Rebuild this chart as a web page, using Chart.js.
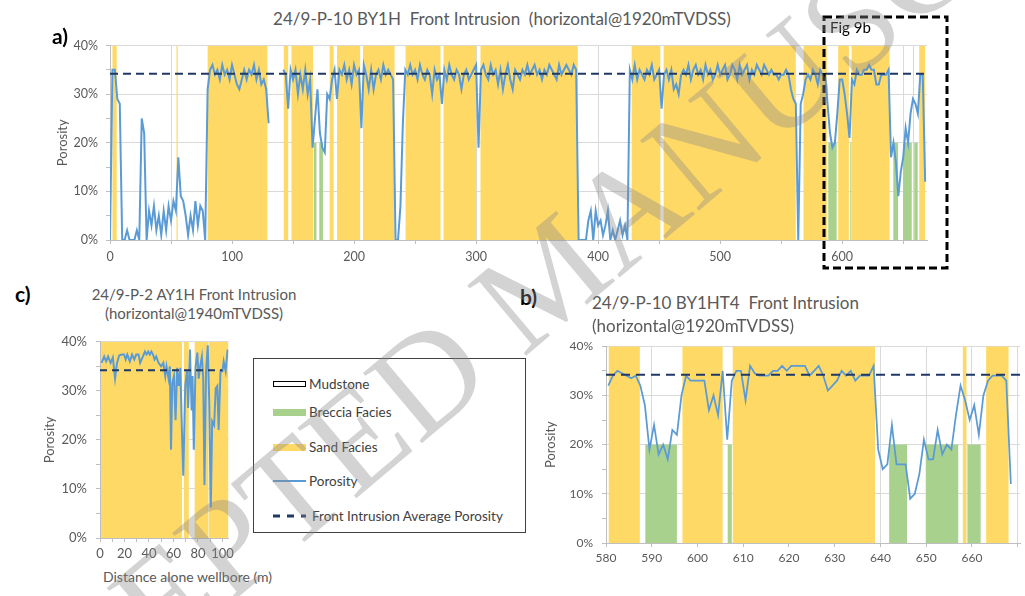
<!DOCTYPE html>
<html>
<head>
<meta charset="utf-8">
<script src="https://cdn.jsdelivr.net/npm/chart.js@4.4.1/dist/chart.umd.min.js"></script>
<style>
  body { margin: 0; width: 1025px; height: 596px; overflow: hidden; position: relative; background: #fff; font-family: Lato, "Open Sans", sans-serif; }
  canvas { position: absolute; }
  .lbl { position: absolute; font-weight: bold; font-size: 21px; line-height: 1; color: #000; }
  .ttl { position: absolute; color: #595959; white-space: nowrap; line-height: 1; }
  #legend { position: absolute; left: 253px; top: 358px; width: 271px; height: 173px; border: 1px solid #404040; background: #fff; }
  .li { position: absolute; left: 19px; height: 18px; display: flex; align-items: center; font-size: 13.5px; color: #404040; white-space: nowrap; }
  .sw { display: inline-block; width: 33px; margin-right: 3px; box-sizing: border-box; }
  #wm { position: absolute; left: 548px; top: 276px; transform: translate(-50%, -50%) rotate(-40deg); font: 140px "Liberation Serif", serif; line-height: 1; color: rgba(140,140,140,0.38); white-space: nowrap; pointer-events: none; }
</style>
</head>
<body>
<canvas id="chartA" width="890" height="240" style="left:40px;top:30px"></canvas>
<canvas id="chartB" width="485" height="240" style="left:540px;top:330px"></canvas>
<canvas id="chartC" width="218" height="240" style="left:20px;top:325px"></canvas>

<div class="lbl" style="left:52px;top:25px">a)</div>
<div class="lbl" style="left:520px;top:286px">b)</div>
<div class="lbl" style="left:15px;top:283px">c)</div>

<div class="ttl" style="left:502px;top:10px;font-size:17px;transform:translateX(-50%)">24/9-P-10 BY1H&nbsp; Front Intrusion&nbsp; (horizontal@1920mTVDSS)</div>
<div class="ttl" style="left:592px;top:294px;font-size:17px">24/9-P-10 BY1HT4&nbsp; Front Intrusion</div>
<div class="ttl" style="left:592px;top:317px;font-size:17px">(horizontal@1920mTVDSS)</div>
<div class="ttl" style="left:194px;top:287px;font-size:15px;transform:translateX(-50%)">24/9-P-2 AY1H Front Intrusion</div>
<div class="ttl" style="left:194px;top:306px;font-size:15px;transform:translateX(-50%)">(horizontal@1940mTVDSS)</div>
<div class="ttl" style="left:103px;top:570px;font-size:14px">Distance alone wellbore (m)</div>

<svg style="position:absolute;left:822px;top:15px" width="128" height="256">
  <rect x="2" y="2" width="123" height="251" fill="none" stroke="#000" stroke-width="3" stroke-dasharray="8 4"/>
</svg>
<div style="position:absolute;left:830px;top:20px;font-size:15px;color:#000;line-height:1">Fig 9b</div>

<div id="legend">
  <div class="li" style="top:16px"><span class="sw" style="height:6px;border:1px solid #000;background:#fff"></span>Mudstone</div>
  <div class="li" style="top:44px"><span class="sw" style="height:7px;background:#a9d18e"></span>Breccia Facies</div>
  <div class="li" style="top:79px"><span class="sw" style="height:7px;background:#ffd966"></span>Sand Facies</div>
  <div class="li" style="top:113px"><span class="sw" style="height:2px;background:#5b9bd5"></span>Porosity</div>
  <div class="li" style="top:148px"><svg width="36" height="6" style="margin-right:3px"><line x1="0" y1="3" x2="33" y2="3" stroke="#1f3864" stroke-width="3" stroke-dasharray="7 7"/></svg>Front Intrusion Average Porosity</div>
</div>

<div id="wm">ACCEPTED MANUSCRIPT</div>

<script>
// ---- data ----
const frontAvg = 34.2;            // front intrusion average porosity, %
const sandTop = 40;               // sand facies drawn full height
const brecciaTop = 20;            // breccia facies drawn to 20 %

// a) 24/9-P-10 BY1H, one sample every 2 m
const aStart = 0, aStep = 2;
const aPorosity = [
  0, 35, 35, 29, 28, 0, 0, 2, 0, 0,
  0, 2, 0, 25, 22, 0, 6, 3, 7, 2,
  5, 1, 6, 2, 7, 4, 8, 6, 17, 9,
  8, 5, 1, 5, 2, 8, 3, 7, 6, 0,
  31, 35, 36, 34, 35, 33, 36, 34, 35, 33,
  36, 34, 32, 31, 33, 35, 33, 35, 34, 36,
  33, 35, 32, 33, 31, 24, null, null, null, null,
  null, 35, 34, 27, 35, 33, 35, 30, 34, 31,
  35, 30, 33, 19, 25, 31, 22, 19, 18, 30,
  29, 33, 35, 29, 35, 34, 36, 33, 35, 32,
  36, 34, 35, 23, 36, 34, 31, 35, 31, 34,
  35, 33, 36, 34, 35, 34, 33, 0, 0, 7,
  24, 35, 34, 36, 34, 35, 33, 36, 34, 33,
  35, 34, 30, 35, 33, 34, 28, 35, 33, 36,
  34, 33, 35, 34, 31, 34, 35, 33, 34, 35,
  36, 19, 35, 36, 34, 33, 36, 34, 35, 32,
  35, 31, 34, 36, 33, 31, 35, 34, 33, 35,
  34, 36, 34, 35, 36, 34, 35, 33, 35, 34,
  36, 35, 34, 33, 36, 34, 35, 36, 35, 34,
  36, 35, 0, 0, 0, 0, 4, 6, 0, 6,
  3, 4, 1, 3, 6, 0, 2, 0, 2, 4,
  1, 3, 0, 35, 33, 36, 33, 35, 34, 33,
  35, 34, 36, 33, 34, 35, 27, 34, 35, 33,
  35, 31, 32, 30, 34, 35, 34, 36, 33, 35,
  36, 34, 35, 33, 36, 34, 35, 33, 34, 36,
  34, 35, 36, 33, 34, 36, 35, 33, 36, 34,
  35, 36, 33, 35, 34, 36, 35, 34, 36, 35,
  34, 35, 34, 34, 33, 34, 34, 35, 34, 31,
  29, 28, 0, 28, 30, 33, 34, 33, 35, 34,
  32, 35, 34, 34, 28, 22, 19, 20, 26, 33,
  33, 30, 26, 21, 33, 32, 35, 34, 34, 35,
  35, 36, 35, 35, 32, 32, 34, 34, 34, 35,
  17, 20, 16, 9, 14, 17, 23, 20, 26, 29,
  28, 26, 34, 34, 12
];
const aSand = [[2, 5.5], [54.5, 55.5], [80, 129], [142.4, 146], [148.7, 166.4], [180, 183.3],
  [186, 205], [207.3, 233.2], [242.2, 270.9], [273.3, 300], [303.6, 383.3], [427.5, 451],
  [453.7, 562], [568.3, 587.4], [596.7, 605.5], [607.7, 638.8], [658, 658.8], [663.1, 668]];
const aBreccia = [[167, 169.2], [171.5, 174.5], [588.6, 595.5], [606.6, 607.5], [641.9, 645.8],
  [649.9, 657], [659, 661.9]];

// b) 24/9-P-10 BY1HT4, one sample every 1 m
const bStart = 580.5, bStep = 1;
const bPorosity = [
  32, 34, 35, 34.5, 34, 33.5, 34, 32, 28, 19,
  24, 18, 20, 17, 23, 22, 30, 34, 33, 33,
  33, 33, 27, 30, 26, 35, 21, 33, 35, 35,
  29, 36, 34.5, 34, 34, 34, 35, 35, 36, 35,
  36, 36, 36, 36, 34, 35, 36, 34, 31, 32,
  33, 35, 34, 35, 33, 34, 34, 34, 36, 19,
  15, 16, 24, 16, 16, 16, 9, 10, 14, 21,
  17, 17, 23, 18, 20, 19, 26, 32, 29, 25,
  28, 22, 30, 33, 34, 34, 34, 33, 12
];
const bSand = [[580.6, 587.4], [596.7, 605.5], [607.7, 638.8], [658, 658.8], [663.1, 668]];
const bBreccia = [[588.6, 595.5], [606.6, 607.5], [641.9, 645.8], [649.9, 657], [659, 661.9]];

// c) 24/9-P-2 AY1H
const cDistance = [1.3, 3.4, 5, 6.6, 8.7, 10.5, 12.3, 13.9, 15.7, 17.6,
  19.7, 21, 22.3, 24.4, 26.2, 28, 29.6, 31.5, 32.8, 35,
  36.7, 38, 39.4, 40.7, 42, 43.3, 44.6, 45.9, 47.8, 49.9,
  51.7, 53.3, 54.3, 56, 57, 58, 59, 60.4, 61.7, 63,
  64.3, 65.6, 67, 68, 69.6, 71, 72, 73.5, 74.8, 75.6,
  76.6, 78, 79.5, 80.6, 81.6, 83.2, 84.3, 85.3, 86.6, 88,
  89.2, 90.5, 91.6, 93.2, 94.5, 95.8, 96.9, 98.4, 100, 101,
  102.6, 104.2];
const cPorosity = [35.7, 37, 36, 37, 35.7, 36.8, 32.5, 35.7, 37.2, 37.4,
  37.4, 36.4, 37.4, 36, 37.4, 36.4, 37.4, 37.4, 35.7, 37,
  38, 37.4, 38, 37.4, 38, 37.4, 36.4, 37, 35.7, 35,
  35.7, 33, 35, 32.5, 35, 18, 31.5, 33, 24, 34.7,
  31, 34.7, 21, 12.7, 31, 34, 26.5, 38.4, 26, 33,
  18, 34.7, 37.8, 32.5, 34.7, 37, 32.5, 10.8, 34, 39.3,
  27.8, 6.2, 23.8, 23, 30.5, 31, 22, 34, 34, 36,
  34, 38.4];
const cSand = [[0.8, 67], [68.5, 72.5], [77.3, 88.6], [89.1, 105]];
const cBreccia = [];

// ---- styling ----
const SAND = '#ffd966', BRECCIA = '#a9d18e', LINE = '#5b9bd5', AVG = '#1f3864';
const GRID = '#d9d9d9', AXIS = '#bfbfbf', TXT = '#595959';

Chart.defaults.font.family = 'Lato, "Open Sans", sans-serif';

// facies intervals -> stepped outline, filled down to 0
function stepPoints(intervals, top, min, max) {
  const pts = [{ x: min, y: 0 }];
  intervals.forEach(([s, e]) => { pts.push({ x: s, y: top }, { x: e, y: 0 }); });
  pts.push({ x: max, y: 0 });
  return pts;
}

function drawPanel(id, p) {
  new Chart(document.getElementById(id), {
    type: 'line',
    data: {
      datasets: [
        { data: [{ x: p.avgFrom, y: frontAvg }, { x: p.avgTo, y: frontAvg }], borderColor: AVG,
          borderWidth: 2, borderDash: p.dash, pointRadius: 0, fill: false, order: 0 },
        { data: p.porosity, borderColor: LINE, borderWidth: p.lw, pointRadius: 0, fill: false, order: 1 },
        { data: stepPoints(p.breccia, brecciaTop, p.min, p.max), stepped: 'before', borderWidth: 0,
          pointRadius: 0, fill: 'origin', backgroundColor: BRECCIA, order: 2 },
        { data: stepPoints(p.sand, sandTop, p.min, p.max), stepped: 'before', borderWidth: 0,
          pointRadius: 0, fill: 'origin', backgroundColor: SAND, order: 3 }
      ]
    },
    options: {
      responsive: false,
      animation: false,
      events: [],
      layout: { padding: p.pad },
      plugins: { legend: { display: false }, tooltip: { enabled: false } },
      scales: {
        x: {
          type: 'linear', min: p.min, max: p.max,
          afterFit: s => { s.height = p.xh; },
          ticks: { stepSize: p.xStep, includeBounds: false, autoSkip: false, maxRotation: 0,
            color: TXT, font: { size: p.fs }, padding: p.xpad,
            callback: v => (v % p.xLabel === 0 && v <= p.xLast) ? v : '' },
          grid: { color: GRID, tickColor: AXIS, tickLength: 4 },
          border: { color: AXIS }
        },
        y: {
          min: 0, max: 40,
          afterFit: s => { s.width = p.yw; },
          ticks: { stepSize: 5, color: TXT, font: { size: p.fs }, padding: p.ypad,
            callback: v => v % 10 === 0 ? v + '%' : '' },
          grid: { color: c => c.tick.value % 10 === 0 ? GRID : 'rgba(0,0,0,0)', tickColor: AXIS, tickLength: 4 },
          border: { color: AXIS },
          title: { display: true, text: 'Porosity', color: TXT, font: { size: 13 }, padding: { top: p.tpad, bottom: 0 } }
        }
      }
    }
  });
}

drawPanel('chartA', {
  porosity: aPorosity.map((v, i) => ({ x: aStart + i * aStep, y: v })),
  sand: aSand, breccia: aBreccia,
  min: 0, max: 669.5, xStep: 50, xLabel: 100, xLast: 600,
  avgFrom: 0, avgTo: 669.5, dash: [8, 5], lw: 2,
  pad: { top: 5, right: 3, left: 0, bottom: 0 }, xh: 30, yw: 70, fs: 12.5, xpad: 5, ypad: 8, tpad: 15
});

drawPanel('chartB', {
  porosity: bPorosity.map((v, i) => ({ x: bStart + i * bStep, y: v })),
  sand: bSand, breccia: bBreccia,
  min: 580, max: 670.5, xStep: 10, xLabel: 10, xLast: 660,
  avgFrom: 580, avgTo: 670.5, dash: [9, 6], lw: 1.75,
  pad: { top: 9, right: 5, left: 0, bottom: 0 }, xh: 27, yw: 66, fs: 12, xpad: 4, ypad: 9, tpad: 3
});

drawPanel('chartC', {
  porosity: cDistance.map((d, i) => ({ x: d, y: cPorosity[i] })),
  sand: cSand, breccia: cBreccia,
  min: 0, max: 105, xStep: 10, xLabel: 20, xLast: 100,
  avgFrom: 0, avgTo: 100, dash: [7, 5], lw: 2,
  pad: { top: 10, right: 5, left: 0, bottom: 0 }, xh: 27, yw: 80, fs: 13, xpad: 4, ypad: 9, tpad: 22
});
</script>
</body>
</html>
